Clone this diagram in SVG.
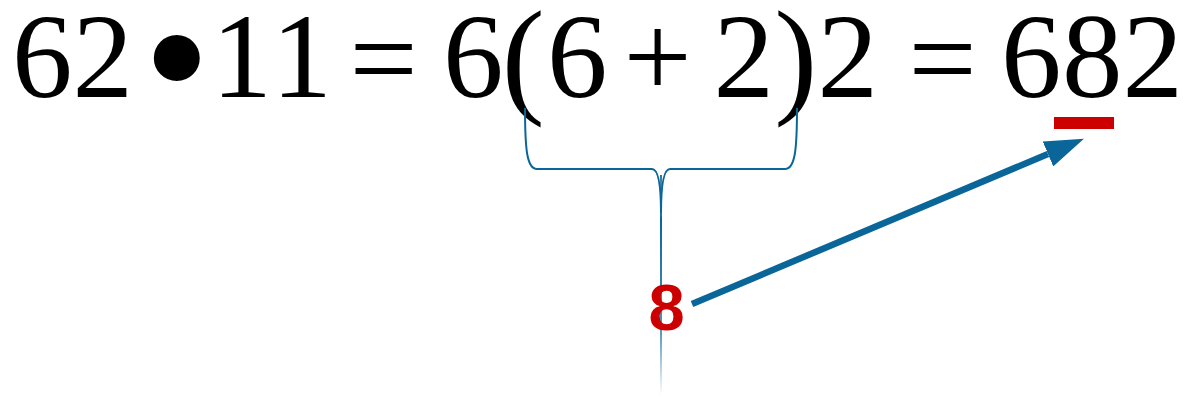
<svg xmlns="http://www.w3.org/2000/svg" width="1189" height="399" viewBox="0 0 1189 399">
<style>
.eq{font-family:"Liberation Serif","Times New Roman",serif;font-size:121px;fill:#000}
.par{font-family:"Liberation Serif","Times New Roman",serif;font-size:129px;fill:#000}
.blue{fill:none;stroke:#0a6699;stroke-width:2}
.lbl{font-family:"Liberation Sans",Arial,sans-serif;font-weight:bold;font-size:65px;fill:#cc0000}
</style>
<defs>
<linearGradient id="fade" gradientUnits="userSpaceOnUse" x1="0" y1="169" x2="0" y2="395">
<stop offset="0" stop-color="#0a6699" stop-opacity="1"/>
<stop offset="0.12" stop-color="#0a6699" stop-opacity="0.55"/>
<stop offset="0.22" stop-color="#0a6699" stop-opacity="1"/>
<stop offset="0.71" stop-color="#0a6699" stop-opacity="0.7"/>
<stop offset="1" stop-color="#0a6699" stop-opacity="0"/>
</linearGradient>
<marker id="head" markerUnits="userSpaceOnUse" markerWidth="39" markerHeight="27" viewBox="0 0 39 27" refX="0" refY="13.5" orient="auto">
<path d="M0,0 L39,13.5 L0,27 z" fill="#0a6699"/>
</marker>
</defs>
<g id="equation">
<text class="eq" y="97"><tspan x="12">6</tspan><tspan x="72.5">2</tspan></text>
<text class="eq" style="font-size:193px" x="143" y="122">•</text>
<text class="eq" y="97"><tspan x="211.6">1</tspan><tspan x="271.6">1</tspan><tspan x="349.5" dy="2">=</tspan><tspan x="443" dy="-2">6</tspan></text>
<text class="par" x="501.8" y="100.2">(</text>
<text class="eq" y="97"><tspan x="547">6</tspan><tspan x="623.4">+</tspan><tspan x="713.4">2</tspan></text>
<text class="par" x="774.3" y="100.2">)</text>
<text class="eq" y="97"><tspan x="817.4">2</tspan><tspan x="908.5" dy="2">=</tspan><tspan x="1001" dy="-2">6</tspan><tspan x="1062">8</tspan><tspan x="1122.5">2</tspan></text>
</g>
<g id="underline">
<rect x="1054" y="117" width="60" height="12" fill="#cc0000"/>
</g>
<g id="connectors">
<path class="blue" d="M525,108 C525,150 527,169 537,169 L652,169 C659,169 661,188 661,213"/>
<path class="blue" d="M797,108 C797,150 795,169 785,169 L670,169 C663,169 661,188 661,213"/>
<line x1="661" y1="175" x2="661" y2="395" stroke="url(#fade)" stroke-width="2"/>
<line x1="692" y1="304" x2="1048" y2="154" stroke="#0a6699" stroke-width="6.5" marker-end="url(#head)"/>
</g>
<g id="label8">
<text class="lbl" x="666.5" y="330" text-anchor="middle">8</text>
</g>
</svg>
